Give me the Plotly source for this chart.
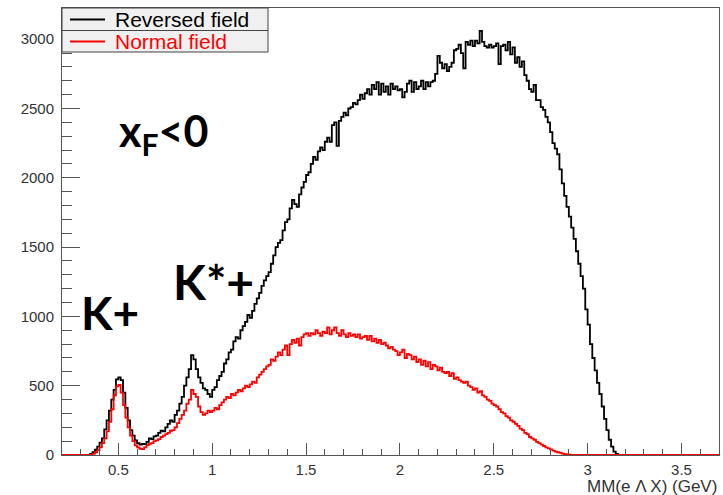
import plotly.graph_objects as go

# Histogram binning (GeV)
X_START = 0.2
BIN_WIDTH = 0.0125

# Reversed field counts per bin (0.2 -> 3.7 GeV), rows of 20 bins
reversed_field = [
    0, 0, 0, 0, 0, 0, 0, 0, 0, 0, 0, 0, 8, 20, 38, 60, 90, 120, 185, 250,
    320, 400, 470, 545, 560, 540, 450, 340, 250, 180, 140, 105, 85, 75, 80, 78, 95, 120, 115, 135,
    140, 160, 175, 170, 200, 225, 250, 240, 290, 320, 370, 420, 500, 560, 620, 720, 690, 620, 560, 520,
    480, 470, 440, 420, 470, 490, 540, 570, 600, 660, 690, 740, 760, 820, 850, 840, 900, 930, 960, 1010,
    990, 1040, 1090, 1130, 1170, 1220, 1260, 1290, 1320, 1380, 1440, 1500, 1530, 1550, 1620, 1680, 1700, 1780, 1840, 1810,
    1790, 1880, 1930, 1970, 2020, 2040, 2100, 2150, 2130, 2190, 2220, 2200, 2260, 2290, 2260, 2380, 2400, 2230, 2410, 2440,
    2470, 2450, 2500, 2510, 2540, 2530, 2560, 2600, 2570, 2610, 2640, 2600, 2670, 2640, 2690, 2600, 2680, 2620, 2660, 2600,
    2680, 2640, 2660, 2630, 2640, 2580, 2620, 2680, 2700, 2620, 2690, 2640, 2660, 2700, 2640, 2690, 2660, 2690, 2700, 2750,
    2880, 2830, 2790, 2820, 2770, 2800, 2830, 2920, 2930, 2960, 2900, 2790, 2980, 2960, 2990, 2950, 2990, 2970, 3060, 2980,
    2950, 2940, 2960, 2940, 2950, 2970, 2820, 2950, 2960, 2920, 2980, 2890, 2940, 2830, 2870, 2800, 2840, 2740, 2700, 2640,
    2620, 2670, 2560, 2560, 2510, 2490, 2440, 2400, 2330, 2250, 2210, 2170, 2060, 1960, 1870, 1790, 1720, 1640, 1560, 1470,
    1380, 1290, 1200, 1050, 940, 800, 700, 610, 520, 440, 350, 260, 180, 110, 60, 25, 8, 0, 0, 0,
    0, 0, 0, 0, 0, 0, 0, 0, 0, 0, 0, 0, 0, 0, 0, 0, 0, 0, 0, 0,
    0, 0, 0, 0, 0, 0, 0, 0, 0, 0, 0, 0, 0, 0, 0, 0, 0, 0, 0, 0,
]

# Normal field counts per bin (0.2 -> 3.7 GeV), rows of 20 bins
normal_field = [
    0, 0, 0, 0, 0, 0, 0, 0, 0, 0, 0, 0, 0, 8, 20, 35, 55, 85, 120, 170,
    240, 330, 430, 495, 505, 450, 360, 270, 200, 140, 100, 70, 55, 45, 42, 55, 70, 80, 85, 100,
    105, 115, 130, 140, 150, 160, 175, 180, 200, 230, 260, 290, 320, 370, 400, 470, 440, 420, 350, 310,
    290, 300, 320, 310, 320, 340, 330, 360, 380, 400, 420, 410, 440, 430, 450, 470, 460, 480, 500, 490,
    510, 530, 520, 560, 580, 600, 620, 640, 650, 690, 680, 710, 740, 720, 760, 790, 720, 800, 830, 810,
    840, 790, 850, 870, 880, 860, 880, 870, 900, 880, 860, 890, 880, 920, 870, 900, 920, 880, 860, 900,
    870, 850, 880, 860, 870, 850, 870, 840, 850, 860, 830, 860, 820, 840, 810, 830, 800, 810, 790, 770,
    780, 760, 750, 720, 740, 760, 700, 730, 720, 690, 710, 670, 690, 650, 680, 640, 670, 620, 650, 640,
    610, 630, 600, 590, 600, 570, 590, 550, 560, 540, 530, 520, 530, 500, 490, 470, 480, 450, 460, 430,
    420, 400, 390, 370, 360, 350, 330, 310, 300, 280, 270, 250, 240, 225, 210, 190, 180, 160, 150, 130,
    120, 110, 95, 85, 75, 65, 55, 48, 40, 32, 25, 20, 15, 10, 7, 5, 3, 1, 0, 0,
    0, 0, 0, 0, 0, 0, 0, 0, 0, 0, 0, 0, 0, 0, 0, 0, 0, 0, 0, 0,
    0, 0, 0, 0, 0, 0, 0, 0, 0, 0, 0, 0, 0, 0, 0, 0, 0, 0, 0, 0,
    0, 0, 0, 0, 0, 0, 0, 0, 0, 0, 0, 0, 0, 0, 0, 0, 0, 0, 0, 0,
]

series_names = ["Reversed field", "Normal field"]
series_colors = ["#000000", "#ff0000"]
x_title = "MM(e \u039b X) (GeV)"


def step_xy(values):
    edges = [X_START + i * BIN_WIDTH for i in range(len(values) + 1)]
    return edges, list(values) + [values[-1]]


fig = go.Figure()
for vals, name, col in zip([reversed_field, normal_field], series_names, series_colors):
    xs, ys = step_xy(vals)
    fig.add_trace(go.Scatter(x=xs, y=ys, mode="lines", line=dict(color=col, width=1.8, shape="hv"),
                             name=name, showlegend=False, hoverinfo="skip"))

tick_font = dict(family="Liberation Sans, Arial, sans-serif", size=15, color="#333333")

fig.update_xaxes(range=[0.2, 3.7], tick0=0, dtick=0.5, ticks="inside", ticklen=12, tickcolor="#555555",
                 showline=True, linecolor="#555555", linewidth=1, mirror=True, showgrid=False, zeroline=False,
                 tickfont=tick_font, ticklabelstandoff=1,
                 minor=dict(dtick=0.1, ticks="inside", ticklen=6, tickcolor="#555555", showgrid=False))
fig.update_yaxes(range=[0, 3225], tick0=0, dtick=500, ticks="inside", ticklen=18, tickcolor="#555555",
                 showline=True, linecolor="#555555", linewidth=1, mirror=True, showgrid=False, zeroline=False,
                 tickfont=tick_font, ticklabelstandoff=4,
                 minor=dict(dtick=100, ticks="inside", ticklen=10, tickcolor="#555555", showgrid=False))

# Manual legend box (ROOT style)
W, H = 657.0, 447.0
def px(xp):
    return (xp - 62) / W
def py(yp):
    return (455 - yp) / H

shapes = [
    dict(type="rect", xref="paper", yref="paper", x0=px(62), x1=px(268), y0=py(52), y1=py(8),
         fillcolor="#f0f0f0", line=dict(color="#444444", width=1), layer="above"),
    dict(type="line", xref="paper", yref="paper", x0=px(62), x1=px(268), y0=py(30.5), y1=py(30.5),
         line=dict(color="#444444", width=1), layer="above"),
]
annotations = []
for i, (name, col) in enumerate(zip(series_names, series_colors)):
    yc = 19.5 + 22 * i
    shapes.append(dict(type="line", xref="paper", yref="paper", x0=px(70), x1=px(105), y0=py(yc), y1=py(yc),
                       line=dict(color=col, width=1.8), layer="above"))
    annotations.append(dict(xref="paper", yref="paper", x=px(113), y=py(yc), xanchor="left", yanchor="middle",
                            text=name, showarrow=False,
                            font=dict(family="Liberation Sans, Arial, sans-serif", size=21, color=col)))

big = dict(family="Lato, Liberation Sans, sans-serif", color="#000000", weight="bold")
annotations += [
    dict(xref="paper", yref="paper", x=px(163), y=py(133), xanchor="center", yanchor="middle",
         text="x<sub>F</sub>&lt;0", showarrow=False, font=dict(size=43, **big)),
    dict(xref="paper", yref="paper", x=px(110), y=py(312), xanchor="center", yanchor="middle",
         text="K+", showarrow=False, font=dict(size=46, **big)),
    dict(xref="paper", yref="paper", x=px(213), y=py(282), xanchor="center", yanchor="middle",
         text="K*+", showarrow=False, font=dict(size=48, **big)),
    dict(xref="paper", yref="paper", x=1.0, y=py(486), xanchor="right", yanchor="middle",
         text=x_title, showarrow=False,
         font=dict(family="Liberation Sans, Arial, sans-serif", size=17, color="#333333")),
]

fig.update_layout(width=723, height=495, margin=dict(l=62, r=4, t=8, b=40),
                  plot_bgcolor="white", paper_bgcolor="white",
                  shapes=shapes, annotations=annotations, showlegend=False)

fig.write_html("out.html", config={"displayModeBar": False},
               post_script="document.body.style.margin='0';document.body.style.padding='0';")
